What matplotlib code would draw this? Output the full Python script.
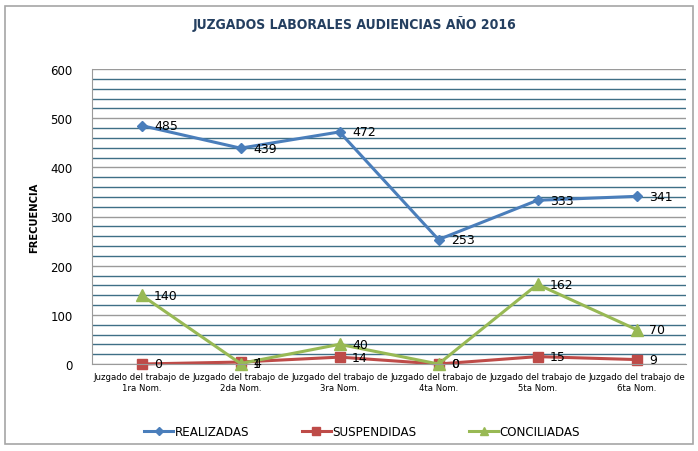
import matplotlib
matplotlib.use("Agg")
import matplotlib.pyplot as plt
from matplotlib.ticker import MultipleLocator
from matplotlib.patches import Rectangle

categories = ["Juzgado del trabajo de\n1ra Nom.", "Juzgado del trabajo de\n2da Nom.",
              "Juzgado del trabajo de\n3ra Nom.", "Juzgado del trabajo de\n4ta Nom.",
              "Juzgado del trabajo de\n5ta Nom.", "Juzgado del trabajo de\n6ta Nom."]
realizadas = [485, 439, 472, 253, 333, 341]
suspendidas = [0, 4, 14, 0, 15, 9]
conciliadas = [140, 1, 40, 0, 162, 70]

W, H = 698, 452
fig = plt.figure(figsize=(W/100, H/100), dpi=100)

# outer frame
fig.patches.append(Rectangle((5/W, 7/H), 688/W, 438/H, transform=fig.transFigure,
                             fill=False, edgecolor='#a6a6a6', lw=1.2))

ax = fig.add_axes([92/W, (H-365)/H, 594/W, 295/H])
x = list(range(len(categories)))
ax.set_xlim(-0.5, len(categories)-0.5)
ax.set_ylim(0, 600)
ax.yaxis.set_major_locator(MultipleLocator(100))
ax.yaxis.set_minor_locator(MultipleLocator(20))
ax.grid(which='minor', axis='y', color='#3f6f86', lw=1.0)
ax.grid(which='major', axis='y', color='#9a9a9a', lw=1.0)
ax.set_axisbelow(True)
for s in ['top', 'right']:
    ax.spines[s].set_visible(False)
ax.spines['left'].set_color('#9a9a9a')
ax.spines['bottom'].set_color('#9a9a9a')
ax.tick_params(axis='y', which='both', length=0, labelsize=8.5, pad=14)
ax.tick_params(axis='x', length=0, pad=6)
ax.set_xticks(x)
ax.set_xticklabels(categories, fontsize=6.8, stretch='condensed', linespacing=1.25)
ax.set_ylabel("FRECUENCIA", fontsize=8, fontweight='bold', labelpad=8, stretch='condensed')

l1, = ax.plot(x, realizadas, color='#4a7ebb', lw=2.2, marker='D', ms=5, label='REALIZADAS', clip_on=False)
l2, = ax.plot(x, suspendidas, color='#be4b48', lw=2.2, marker='s', ms=7, label='SUSPENDIDAS', clip_on=False)
l3, = ax.plot(x, conciliadas, color='#98b954', lw=2.2, marker='^', ms=8, label='CONCILIADAS', clip_on=False)

for series in (realizadas, suspendidas, conciliadas):
    for xi, v in zip(x, series):
        ax.annotate(str(v), (xi, v), xytext=(9, 0), textcoords='offset points',
                    fontsize=9, va='center', ha='left')

fig.text(355/W, 1-24/H, "JUZGADOS LABORALES AUDIENCIAS AÑO 2016", ha='center', va='center',
         fontsize=10, fontweight='bold', color='#243f60', stretch='condensed')

fig.legend(handles=[l1, l2, l3], loc='center', bbox_to_anchor=(362/W, 1-433/H), ncol=3,
           frameon=False, prop={'size': 9.5, 'stretch': 'condensed'}, columnspacing=4.0,
           handlelength=2.2, handletextpad=0.1, markerscale=0.8)

fig.savefig("out.png", dpi=100)
